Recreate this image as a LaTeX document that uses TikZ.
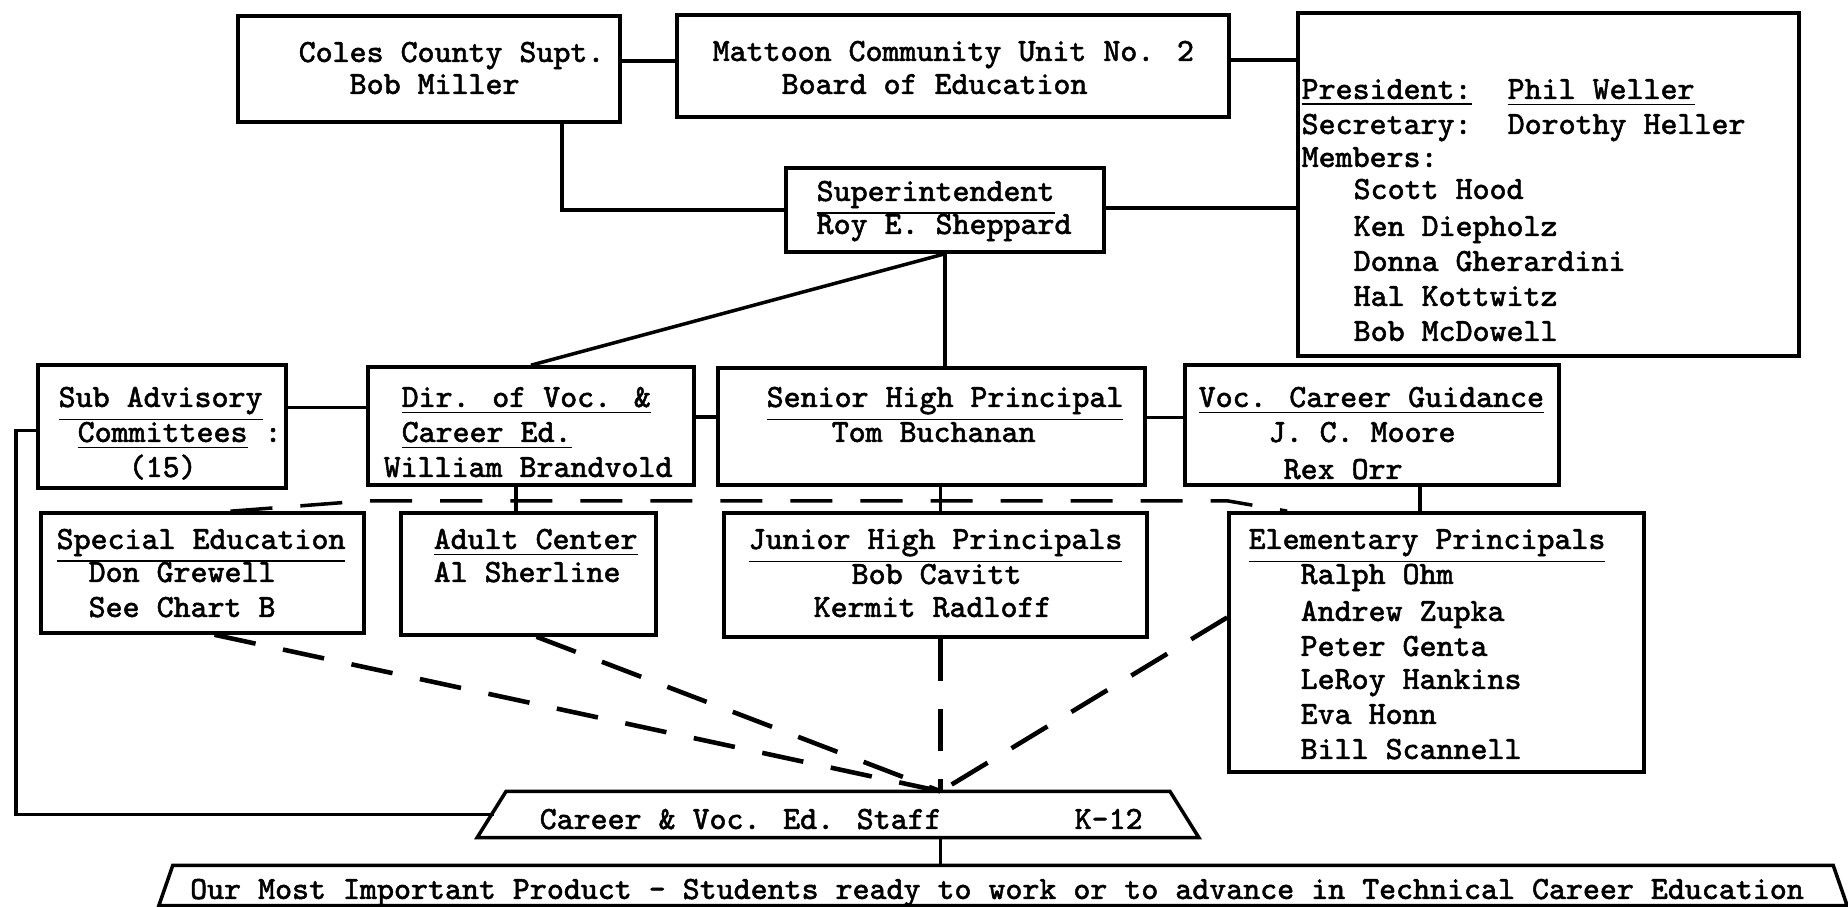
\documentclass[tikz,border=0pt]{standalone}
\usepackage{fontspec}
\usepackage{tikz}
\newfontfamily\chartfont[FakeBold=1.5]{Latin Modern Mono}
\newcommand{\charttext}{\chartfont\fontsize{9.2}{11}\selectfont}

\begin{document}
\begin{tikzpicture}[x=0.01cm, y=-0.01cm,
    box/.style={draw, line width=1pt, inner sep=0pt},
    slantbox/.style={inner sep=0pt},
    txt/.style={anchor=base west, inner sep=0pt, font=\charttext},
    link/.style={line width=1pt},
    dashlink/.style={line width=1.3pt, dash pattern=on 0.42cm off 0.28cm}]
    \useasboundingbox (0,0) rectangle (1848,907);

    % board level
    \node[box, minimum width=3.82cm, minimum height=1.06cm] (coles) at (429,69) {};
    \node[box, minimum width=5.52cm, minimum height=1.02cm] (unit) at (953,66) {};
    \node[box, minimum width=5.01cm, minimum height=3.43cm] (members) at (1548.5,184.5) {};
    \node[box, minimum width=3.18cm, minimum height=0.84cm] (supt) at (945,210) {};

    \node[txt] (colesA) at (298,62) {Coles County Supt.};
    \node[txt] (colesB) at (349,94) {Bob Miller};
    \node[txt] (unitA) at (712,61) {Mattoon Community Unit No. 2};
    \node[txt] (unitB) at (781,94) {Board of Education};
    \node[txt] (suptA) at (816,201) {\underline{Superintendent}};
    \node[txt] (suptB) at (816,234) {Roy E. Sheppard};

    \node[txt] (presA) at (1301,99) {\underline{President:}};
    \node[txt] (presB) at (1507,99) {\underline{Phil Weller}};
    \node[txt] (secA) at (1301,134) {Secretary:};
    \node[txt] (secB) at (1507,134) {Dorothy Heller};
    \node[txt] (memA) at (1301,167) {Members:};
    \node[txt] (memB) at (1353,199) {Scott Hood};
    \node[txt] (memC) at (1353,236) {Ken Diepholz};
    \node[txt] (memD) at (1353,271) {Donna Gherardini};
    \node[txt] (memE) at (1353,306) {Hal Kottwitz};
    \node[txt] (memF) at (1353,341) {Bob McDowell};

    % staff level
    \node[box, minimum width=2.48cm, minimum height=1.23cm] (subadv) at (162,426.5) {};
    \node[box, minimum width=3.26cm, minimum height=1.18cm] (vocdir) at (531,426) {};
    \node[box, minimum width=4.27cm, minimum height=1.17cm] (senior) at (931.5,426.5) {};
    \node[box, minimum width=3.74cm, minimum height=1.20cm] (guidance) at (1372,425) {};

    \node[txt] (subA) at (58,407) {\underline{Sub Advisory}};
    \node[txt] (subB) at (77,442) {\underline{Committees} :};
    \node[txt] (subC) at (128,477) {(15)};
    \node[txt] (dirA) at (401,407) {\underline{Dir. of Voc. \&}};
    \node[txt] (dirB) at (401,442) {\underline{Career Ed.}};
    \node[txt] (dirC) at (383,477) {William Brandvold};
    \node[txt] (senA) at (766,407) {\underline{Senior High Principal}};
    \node[txt] (senB) at (831,442) {Tom Buchanan};
    \node[txt] (guiA) at (1198,407) {\underline{Voc. Career Guidance}};
    \node[txt] (guiB) at (1268,442) {J. C. Moore};
    \node[txt] (guiC) at (1283,479) {Rex Orr};

    % schools
    \node[box, minimum width=3.23cm, minimum height=1.20cm] (speced) at (202.5,573) {};
    \node[box, minimum width=2.55cm, minimum height=1.22cm] (adult) at (528.5,574) {};
    \node[box, minimum width=4.23cm, minimum height=1.24cm] (junior) at (935.5,575) {};
    \node[box, minimum width=4.15cm, minimum height=2.59cm] (elem) at (1436.5,642.5) {};

    \node[txt] (speA) at (56,549) {\underline{Special Education}};
    \node[txt] (speB) at (88,582) {Don Grewell};
    \node[txt] (speC) at (88,617) {See Chart B};
    \node[txt] (aduA) at (433,549) {\underline{Adult Center}};
    \node[txt] (aduB) at (433,582) {Al Sherline};
    \node[txt] (junA) at (748,549) {\underline{Junior High Principals}};
    \node[txt] (junB) at (851,584) {Bob Cavitt};
    \node[txt] (junC) at (813,617) {Kermit Radloff};
    \node[txt] (eleA) at (1248,549) {\underline{Elementary Principals}};
    \node[txt] (eleB) at (1300,584) {Ralph Ohm};
    \node[txt] (eleC) at (1300,621) {Andrew Zupka};
    \node[txt] (eleD) at (1300,656) {Peter Genta};
    \node[txt] (eleE) at (1300,689) {LeRoy Hankins};
    \node[txt] (eleF) at (1300,724) {Eva Honn};
    \node[txt] (eleG) at (1300,759) {Bill Scannell};

    % staff and product
    \node[slantbox, minimum width=7.20cm, minimum height=0.45cm] (staff) at (838,814.5) {};
    \node[slantbox, minimum width=16.86cm, minimum height=0.39cm] (product) at (1003,885.5) {};
    \draw[link] ([xshift=0.29cm]staff.north west) -- ([xshift=-0.29cm]staff.north east)
        -- (staff.south east) -- (staff.south west) -- cycle;
    \draw[link] ([xshift=0.14cm]product.north west) -- ([xshift=-0.14cm]product.north east)
        -- (product.south east) -- (product.south west) -- cycle;
    \node[txt] (staffA) at (539,829) {Career \& Voc. Ed. Staff};
    \node[txt] (staffB) at (1074,829) {K-12};
    \node[txt, anchor=base] (prodA) at (997,899) {Our Most Important Product - Students ready to work or to advance in Technical Career Education};

    \coordinate (hub) at ([xshift=0.05cm]staff.north -| junior.south);

    % solid lines
    \draw[link] ([yshift=0.08cm]coles.east) -- ([yshift=0.08cm]coles.east -| unit.west);
    \draw[link] ([yshift=0.06cm]unit.east) -- ([yshift=0.06cm]unit.east -| members.west);
    \draw[link] ([xshift=-0.6cm]coles.south east) |- (supt.west);
    \draw[link] ([yshift=0.02cm]supt.east) -- ([yshift=0.02cm]supt.east -| members.west);
    \draw[link] (supt.south) -- (vocdir.north);
    \draw[link] (supt.south) -- (supt.south |- senior.north);
    \draw[link] ([yshift=0.19cm]subadv.east) -- ([yshift=0.19cm]subadv.east -| vocdir.west);
    \draw[link] ([yshift=0.09cm]vocdir.east) -- ([yshift=0.09cm]vocdir.east -| senior.west);
    \draw[link] ([yshift=0.09cm]senior.east) -- ([yshift=0.09cm]senior.east -| guidance.west);
    \draw[link] ([yshift=-0.04cm]subadv.west) -- ++(-20,0) |- ([xshift=0.17cm]staff.west);
    \draw[link] ([xshift=-0.15cm]vocdir.south) -- ([xshift=-0.15cm]vocdir.south |- adult.north);
    \draw[link] ([xshift=0.09cm]senior.south) -- ([xshift=0.09cm]senior.south |- junior.north);
    \draw[link] ([xshift=0.48cm]guidance.south) -- ([xshift=0.48cm]guidance.south |- elem.north);
    \draw[link] (hub |- staff.south) -- (hub |- product.north);

    % dashed lines
    \draw[dashlink, line width=1pt] ([xshift=0.28cm]speced.north) -- ([yshift=-0.14cm]vocdir.south west)
        -- ([yshift=-0.14cm]vocdir.south west -| elem.north west) -- ([xshift=0.6cm]elem.north west);
    \draw[dashlink] ([xshift=0.12cm]speced.south) -- (hub);
    \draw[dashlink] ([xshift=0.08cm]adult.south) -- (hub);
    \draw[dashlink] ([xshift=0.05cm]junior.south) -- (hub);
    \draw[dashlink] ([yshift=0.25cm]elem.west) -- (hub);
\end{tikzpicture}
\end{document}
